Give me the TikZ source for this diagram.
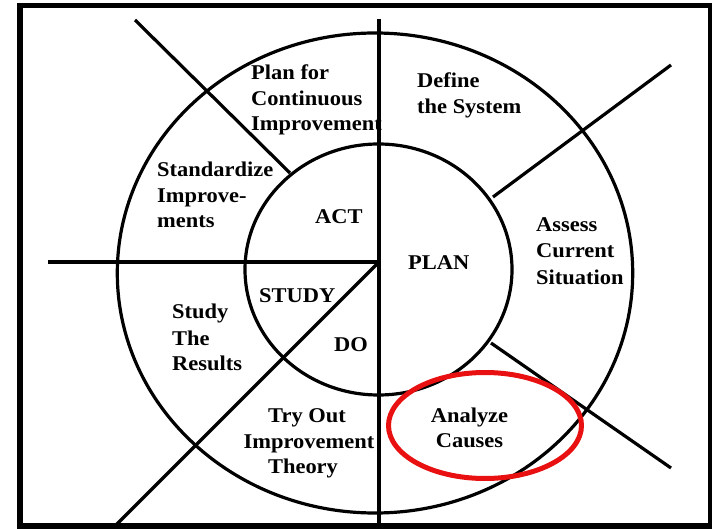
\documentclass[tikz,border=0pt]{standalone}
\usepackage{fontspec}
\setmainfont{Liberation Serif}[FakeStretch=1.07]
\begin{document}
\begin{tikzpicture}[x=1pt,y=-1pt,
  ring/.style={line width=3.2pt,black},
  spoke/.style={line width=3.2pt,black},
  frame/.style={line width=5.6pt,black},
  lbl/.style={inner sep=0pt,font=\bfseries\fontsize{21}{25.5}\selectfont},
  highlight/.style={line width=5pt,draw={rgb,255:red,232;green,16;blue,16}}]
\useasboundingbox (0,0) rectangle (712,529);
% outer frame
\draw[frame] (20,5.5) rectangle (711,526);

% rings of the cycle
\draw[ring] (375,273) ellipse [x radius=257.7, y radius=240];
\draw[ring] (378.5,269.5) ellipse [x radius=133.5, y radius=125.5];

% spokes
\coordinate (hub) at (379,262);
\coordinate (vtop) at (379,19);
\coordinate (vbot) at (379,529);
\coordinate (hleft) at (48,262);
\coordinate (dlow) at (115,526);
\coordinate (ulout) at (135,20);
\coordinate (ulin) at (290,173);
\coordinate (urout) at (671,65);
\coordinate (urin) at (493,197);
\coordinate (lrin) at (491,343);
\coordinate (lrout) at (671,468);
\draw[spoke] (vtop) -- (vbot);
\draw[spoke] (hleft) -- (hub);
\draw[spoke] (hub) -- (dlow);
\draw[spoke] (ulout) -- (ulin);
\draw[spoke] (urout) -- (urin);
\draw[spoke] (lrin) -- (lrout);

% outer ring steps
\node[lbl,anchor=base west] (pc1) at (251,80) {Plan for};
\node[lbl,anchor=base west] (pc2) at (251,105.5) {Continuous};
\node[lbl,anchor=base west] (pc3) at (251,131) {Improvement};

\node[lbl,anchor=base west] (ds1) at (417,88) {Define};
\node[lbl,anchor=base west] (ds2) at (417,113.5) {the System};

\node[lbl,anchor=base west] (su1) at (157,177) {Standardize};
\node[lbl,anchor=base west] (su2) at (157,202.5) {Improve-};
\node[lbl,anchor=base west] (su3) at (157,228) {ments};

\node[lbl,anchor=base west] (ac1) at (536,232) {Assess};
\node[lbl,anchor=base west] (ac2) at (536,258) {Current};
\node[lbl,anchor=base west] (ac3) at (536,284) {Situation};

\node[lbl,anchor=base west] (sr1) at (172,319) {Study};
\node[lbl,anchor=base west] (sr2) at (172,345) {The};
\node[lbl,anchor=base west] (sr3) at (172,370.5) {Results};

\node[lbl,anchor=base] (ti1) at (307,422) {Try Out};
\node[lbl,anchor=base] (ti2) at (309,448) {Improvement};
\node[lbl,anchor=base] (ti3) at (303,473.5) {Theory};

\node[lbl,anchor=base] (an1) at (469.5,422) {Analyze};
\node[lbl,anchor=base] (an2) at (469.5,447.5) {Causes};

% inner ring phases
\node[lbl,anchor=base west] (act) at (315,224) {ACT};
\node[lbl,anchor=base west] (plan) at (408,270) {PLAN};
\node[lbl,anchor=base west] (study) at (259,303) {STUDY};
\node[lbl,anchor=base west] (do) at (334,351) {DO};

% highlight around the current step
\draw[highlight] (485,425.5) ellipse [x radius=96.5, y radius=53];
\end{tikzpicture}
\end{document}
